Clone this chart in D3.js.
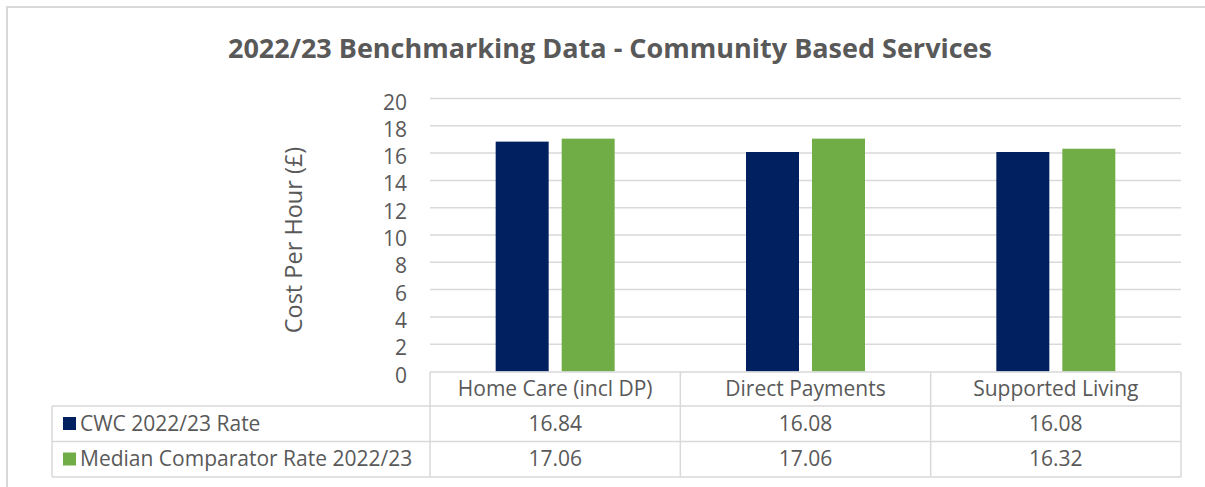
<!DOCTYPE html>
<html lang="en">
<head>
  <meta charset="UTF-8">
  <title>2022/23 Benchmarking Data - Community Based Services</title>
  <script src="https://d3js.org/d3.v7.min.js"></script>
  <style>
    body { margin: 0; background: #fff; }
    svg { display: block; font-family: "Open Sans", sans-serif; }
    .title { font-size: 27px; font-weight: bold; fill: #595959; text-anchor: middle; }
    .tick-label { font-size: 21px; fill: #595959; text-anchor: end; }
    .axis-title { font-size: 23.5px; fill: #595959; text-anchor: middle; }
    .cell { font-size: 21px; fill: #595959; }
    .grid { stroke: #d9d9d9; stroke-width: 1.5px; }
    .tbl { stroke: #d9d9d9; stroke-width: 1.5px; fill: none; }
  </style>
</head>
<body>
  <svg width="1205" height="487"></svg>
  <script>
    // data
    var categories = ["Home Care (incl DP)", "Direct Payments", "Supported Living"];
    var seriesNames = ["CWC 2022/23 Rate", "Median Comparator Rate 2022/23"];
    var cwcRate = [16.84, 16.08, 16.08];
    var medianRate = [17.06, 17.06, 16.32];
    var yTicks = [0, 2, 4, 6, 8, 10, 12, 14, 16, 18, 20];
    var colors = ["#002060", "#70ad47"];

    var seriesValues = [cwcRate, medianRate];

    var svg = d3.select("svg");

    var plot = {left: 430, right: 1181, top: 98.5, bottom: 371.5};
    var rows = {header: 372, row1: 406, row2: 441.5, end: 477},
        labelLeft = 52;

    var x0 = d3.scaleBand().domain(categories).range([plot.left, plot.right]);
    var groupWidth = 119;
    var x1 = d3.scaleBand().domain(seriesNames).range([0, groupWidth]).paddingInner(0.197);
    var y = d3.scaleLinear().domain([0, 20]).range([plot.bottom, plot.top]);

    // outer chart border (only top and left visible)
    svg.append("path")
      .attr("d", "M7,487 V7 H1205")
      .attr("fill", "none")
      .attr("stroke", "#d9d9d9")
      .attr("stroke-width", 2);

    // title
    svg.append("text")
      .attr("class", "title")
      .attr("x", 610)
      .attr("y", 58)
      .text("2022/23 Benchmarking Data - Community Based Services");

    // gridlines
    svg.selectAll(".grid")
      .data(yTicks.filter(function(d) { return d > 0; }))
      .enter().append("line")
      .attr("class", "grid")
      .attr("x1", plot.left).attr("x2", plot.right)
      .attr("y1", function(d) { return y(d); })
      .attr("y2", function(d) { return y(d); });

    // y tick labels
    svg.selectAll(".tick-label")
      .data(yTicks)
      .enter().append("text")
      .attr("class", "tick-label")
      .attr("x", 407)
      .attr("y", function(d) { return y(d) + 11; })
      .text(function(d) { return d; });

    // y axis title
    svg.append("text")
      .attr("class", "axis-title")
      .attr("transform", "translate(302,240) rotate(-90)")
      .text("Cost Per Hour (£)");

    // bars
    seriesValues.forEach(function(vals, s) {
      svg.append("g").selectAll("rect")
        .data(vals)
        .enter().append("rect")
        .attr("x", function(d, i) {
          return x0(categories[i]) + (x0.bandwidth() - groupWidth) / 2 + x1(seriesNames[s]);
        })
        .attr("width", x1.bandwidth())
        .attr("y", function(d) { return y(d); })
        .attr("height", function(d) { return y(0) - y(d); })
        .attr("fill", colors[s]);
    });

    // data table
    var t = svg.append("g");
    t.append("path").attr("class", "tbl")
      .attr("d", "M" + plot.left + "," + rows.header + " H" + plot.right);
    [rows.row1, rows.row2, rows.end].forEach(function(yy) {
      t.append("line").attr("class", "tbl")
        .attr("x1", labelLeft).attr("x2", plot.right)
        .attr("y1", yy).attr("y2", yy);
    });
    t.append("line").attr("class", "tbl")
      .attr("x1", labelLeft).attr("x2", labelLeft)
      .attr("y1", rows.row1).attr("y2", rows.end);
    categories.forEach(function(c, i) {
      t.append("line").attr("class", "tbl")
        .attr("x1", x0(c)).attr("x2", x0(c))
        .attr("y1", rows.header).attr("y2", rows.end);
    });
    t.append("line").attr("class", "tbl")
      .attr("x1", plot.right).attr("x2", plot.right)
      .attr("y1", rows.header).attr("y2", rows.end);

    // header labels
    t.selectAll(".hdr")
      .data(categories)
      .enter().append("text")
      .attr("class", "cell")
      .attr("text-anchor", "middle")
      .attr("x", function(d) { return x0(d) + x0.bandwidth() / 2; })
      .attr("y", 396)
      .text(function(d) { return d; });

    var rowBase = [430.5, 466];
    seriesNames.forEach(function(name, s) {
      // legend key
      t.append("rect")
        .attr("x", 63).attr("y", rowBase[s] - 13.5)
        .attr("width", 13).attr("height", 13)
        .attr("fill", colors[s]);
      t.append("text")
        .attr("class", "cell")
        .attr("x", 80)
        .attr("y", rowBase[s])
        .text(name);
      t.selectAll(".v" + s)
        .data(seriesValues[s])
        .enter().append("text")
        .attr("class", "cell")
        .attr("text-anchor", "middle")
        .attr("x", function(d, i) { return x0(categories[i]) + x0.bandwidth() / 2; })
        .attr("y", rowBase[s])
        .text(function(d) { return d3.format(".2f")(d); });
    });
  </script>
</body>
</html>
